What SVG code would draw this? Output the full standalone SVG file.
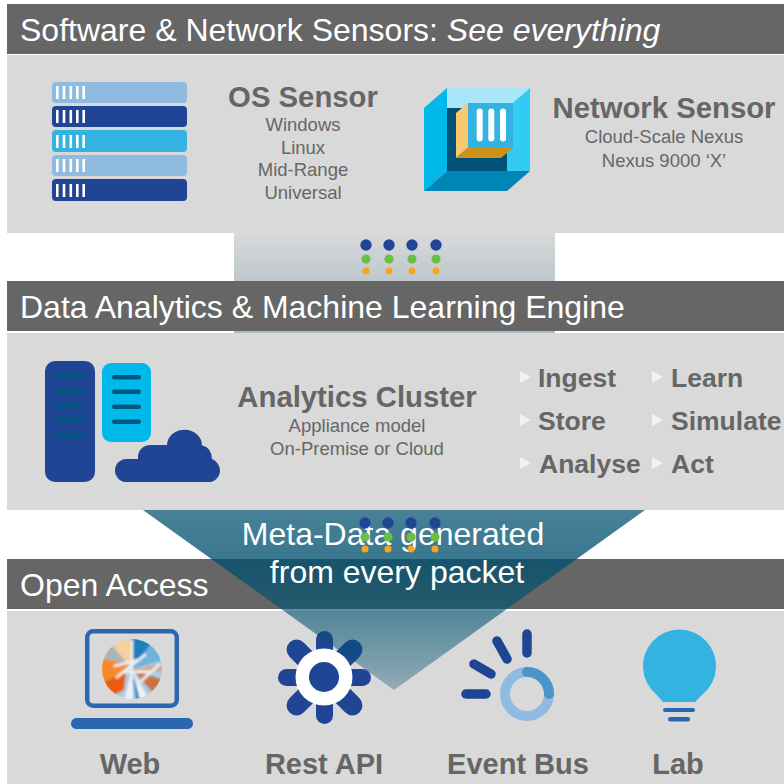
<svg xmlns="http://www.w3.org/2000/svg" width="784" height="784" viewBox="0 0 784 784">
<style>
text{font-family:"Liberation Sans",Arial,sans-serif}
.hd{fill:#666}.pn{fill:#d9d9d9}
.ht{fill:#fff;font-size:32px}
.t{fill:#666;font-size:29.300px;font-weight:bold;text-anchor:middle}
.s{fill:#666;font-size:18.500px;text-anchor:middle}
.b{fill:#666;font-size:26.500px;font-weight:bold}
.l{fill:#666;font-size:29px;font-weight:bold;text-anchor:middle}
.navy{fill:#204595}.lb{fill:#8ebbdf}.cy{fill:#32b3e2}
.w{stroke:#fff;stroke-width:2.600}
</style>
<defs>
<linearGradient id="g1" x1="0" y1="0" x2="0" y2="1"><stop offset="0" stop-color="#d9d9d9"/><stop offset="0.45" stop-color="#bfc9cd"/><stop offset="1" stop-color="#a9bcc4"/></linearGradient>
<linearGradient id="g2" x1="0" y1="0" x2="0" y2="1"><stop offset="0" stop-color="#00506f" stop-opacity="0.72"/><stop offset="0.3" stop-color="#00506f" stop-opacity="0.78"/><stop offset="0.54" stop-color="#00506f" stop-opacity="0.63"/><stop offset="1" stop-color="#00506f" stop-opacity="0.33"/></linearGradient>
<filter id="soft" x="-10%" y="-10%" width="120%" height="120%"><feGaussianBlur stdDeviation="0.8"/></filter>
<clipPath id="disc"><circle cx="132" cy="669" r="30"/></clipPath>
<g id="bar"><path class="w" d="M57.300 0v13M64 0v13M70.800 0v13M77.300 0v13M83.700 0v13"/></g>
<g id="dots"><circle cx="0" cy="0" r="5.700" fill="#204595"/><circle cx="0" cy="14" r="4.600" fill="#6cbf45"/><circle cx="0" cy="26" r="3.500" fill="#f9a41a"/></g>
</defs>
<rect width="784" height="784" fill="#fff"/>
<rect class="pn" x="7" y="55" width="777" height="178"/>
<rect class="pn" x="7" y="333" width="777" height="177"/>
<rect class="pn" x="7" y="611" width="777" height="173"/>
<g id="connector-band"><rect x="234" y="233" width="321" height="100" fill="url(#g1)"/></g>
<g id="header-sensors"><rect class="hd" x="7" y="4" width="777" height="50"/><text class="ht" x="20" y="41">Software &amp; Network Sensors: <tspan font-style="italic">See everything</tspan></text></g>
<g id="header-engine"><rect class="hd" x="7" y="281" width="777" height="50"/><text class="ht" x="20" y="318">Data Analytics &amp; Machine Learning Engine</text></g>
<g id="header-access"><rect class="hd" x="7" y="559" width="777" height="50"/><text class="ht" x="20" y="596">Open Access</text></g>
<g id="os-sensor">
<rect class="lb" x="52" y="82" width="135" height="21" rx="4"/><use href="#bar" y="86"/>
<rect class="navy" x="52" y="106" width="135" height="21" rx="4"/><use href="#bar" y="110"/>
<rect class="cy" x="52" y="130" width="135" height="22" rx="4"/><use href="#bar" y="135"/>
<rect class="lb" x="52" y="155" width="135" height="21" rx="4"/><use href="#bar" y="159"/>
<rect class="navy" x="52" y="179" width="135" height="22" rx="4"/><use href="#bar" y="184"/>
<text class="t" x="303" y="107">OS Sensor</text>
<text class="s" x="303" y="131">Windows</text><text class="s" x="303" y="154">Linux</text><text class="s" x="303" y="176">Mid-Range</text><text class="s" x="303" y="199">Universal</text>
</g>
<g id="network-sensor">
<polygon points="447,88 530,88 507,108 447,108" fill="#a8e6fa"/>
<polygon points="447,108 507,108 507,171 447,171" fill="#005078"/>
<polygon points="424,108 447,88 447,171 424,191" fill="#00b9ea"/>
<polygon points="507,108 530,88 530,171 507,171" fill="#32cbf1"/>
<polygon points="424,191 447,171 530,171 507,191" fill="#0086b6"/>
<polygon points="456,113 468,103 468,148 456,158" fill="#fbc76f"/>
<polygon points="456,158 468,148 513,148 501,158" fill="#ce9015"/>
<rect x="468" y="103" width="45" height="45" fill="#32b3e2"/>
<rect x="476.700" y="108.500" width="6" height="33" rx="3" fill="#fff"/><rect x="488.300" y="108.500" width="6" height="33" rx="3" fill="#fff"/><rect x="500" y="108.500" width="6" height="33" rx="3" fill="#fff"/>
<text class="t" x="664" y="118">Network Sensor</text>
<text class="s" x="664" y="143">Cloud-Scale Nexus</text><text class="s" x="664" y="167">Nexus 9000 ‘X’</text>
</g>
<g id="dots-upper"><use href="#dots" x="366" y="245"/><use href="#dots" x="389" y="245"/><use href="#dots" x="412" y="245"/><use href="#dots" x="436" y="245"/></g>
<g id="analytics-cluster">
<rect class="navy" x="45" y="361" width="50" height="121" rx="10"/>
<g fill="#005a80"><rect x="55" y="373.500" width="29" height="4.500" rx="2.200"/><rect x="55" y="388.500" width="29" height="4.500" rx="2.200"/><rect x="55" y="403.500" width="29" height="4.500" rx="2.200"/><rect x="55" y="418" width="29" height="4.500" rx="2.200"/><rect x="55" y="433" width="29" height="4.500" rx="2.200"/></g>
<rect x="102" y="363" width="49" height="79" rx="9" fill="#00b9ea"/>
<g fill="#005a80"><rect x="112" y="375" width="29" height="4.500" rx="2.200"/><rect x="112" y="389.500" width="29" height="4.500" rx="2.200"/><rect x="112" y="404.500" width="29" height="4.500" rx="2.200"/><rect x="112" y="419.500" width="29" height="4.500" rx="2.200"/></g>
<path class="navy" d="M126.500 482A11.500 11.500 0 0 1 126.500 459H138V457A12 12 0 0 1 150 445H167A17.500 15.500 0 0 1 202 445.500A11 13.500 0 0 1 212 459C216 461 220 465 220 470.500A11.500 11.500 0 0 1 208.500 482Z"/>
<text class="t" x="357" y="407">Analytics Cluster</text>
<text class="s" x="357" y="432">Appliance model</text><text class="s" x="357" y="455">On-Premise or Cloud</text>
<g fill="#f2f2f2"><polygon points="520,371 531,377 520,383"/><polygon points="520,414 531,420 520,426"/><polygon points="520,457 531,463 520,469"/><polygon points="652,371 663,377 652,383"/><polygon points="652,414 663,420 652,426"/><polygon points="652,457 663,463 652,469"/></g>
<text class="b" x="538" y="387">Ingest</text><text class="b" x="538" y="430">Store</text><text class="b" x="539" y="473">Analyse</text>
<text class="b" x="671" y="387">Learn</text><text class="b" x="671" y="430">Simulate</text><text class="b" x="671" y="473">Act</text>
</g>
<g id="web">
<rect x="87.200" y="631.300" width="89.600" height="74.400" rx="6" fill="none" stroke="#2a67b0" stroke-width="4.500"/>
<rect x="71" y="718" width="122" height="11" rx="5.500" fill="#2a67b0"/>
<g clip-path="url(#disc)"><g filter="url(#soft)">
<rect x="100" y="637" width="64" height="64" fill="#a9cfe6"/>
<path d="M132 669L100 672L104 650L112 645Z" fill="#a7b7b8"/>
<path d="M132 669L112 645L130 636Z" fill="#f6cf9e"/>
<path d="M132 669L131 636L152 642L146 664Z" fill="#1c80bd"/>
<path d="M132 669L152 642L164 660Z" fill="#6db3dd"/>
<path d="M132 669L164 664L164 672Z" fill="#d9a585"/>
<path d="M128 664L100 658L100 688L112 686Z" fill="#f68a2c"/>
<path d="M126 672L100 684L112 696L124 690Z" fill="#eb5a0c"/>
<path d="M132 669L164 680L152 692Z" fill="#c87445"/>
<path d="M132 669L124 700L133 700Z" fill="#eef2f4"/>
<path d="M132 669L136 700L142 700Z" fill="#1c80bd"/>
<path d="M132 669L148 698L140 700Z" fill="#f0f2f2"/>
<path d="M114 666L138 660M116 678L146 654M122 672L150 672M132 640L132 680M140 682L160 664" stroke="#f2f2f2" stroke-width="2.500" fill="none"/>
</g></g>
<text class="l" x="130" y="774">Web</text>
</g>
<g id="rest-api">
<g class="navy"><rect x="316" y="631" width="17" height="93" rx="8.500"/><rect x="278" y="669" width="93" height="17" rx="8.500"/>
<rect x="314.500" y="628" width="20" height="99" rx="10" transform="rotate(45 324.500 677.500)"/><rect x="314.500" y="628" width="20" height="99" rx="10" transform="rotate(-45 324.500 677.500)"/></g>
<circle cx="324" cy="677" r="28.500" fill="#fff"/><circle cx="324" cy="677" r="15" class="navy"/>
<text class="l" x="324" y="774">Rest API</text>
</g>
<g id="event-bus">
<g stroke="#204595" stroke-width="9.500" stroke-linecap="round" fill="none"><path d="M527 634V653"/><path d="M497 641L507 659"/><path d="M474 664L491 674"/><path d="M466 694H486"/></g>
<circle cx="527" cy="694" r="22" fill="none" stroke="#8ebbdf" stroke-width="10"/>
<path d="M527 672A22 22 0 0 1 549 694" fill="none" stroke="#4a94c9" stroke-width="10" stroke-linecap="round"/>
<text class="l" x="518" y="774">Event Bus</text>
</g>
<g id="lab">
<path class="cy" d="M663 702L656 694A36.500 36.500 0 1 1 703 694L695 702Z"/>
<rect x="663" y="708" width="32" height="4" rx="2" fill="#2a67b0"/><rect x="668" y="717" width="22" height="4.500" rx="2.200" fill="#2a67b0"/>
<text class="l" x="678" y="774">Lab</text>
</g>
<g id="meta-data">
<polygon points="143,510 645,510 394,690" fill="url(#g2)"/>
<text fill="#fff" font-size="32" text-anchor="middle" x="393" y="545">Meta-Data generated</text>
<text fill="#fff" font-size="32" text-anchor="middle" x="397" y="583">from every packet</text>
</g>
<g id="dots-lower"><use href="#dots" x="365" y="523"/><use href="#dots" x="388" y="523"/><use href="#dots" x="411" y="523"/><use href="#dots" x="435" y="523"/></g>
</svg>
